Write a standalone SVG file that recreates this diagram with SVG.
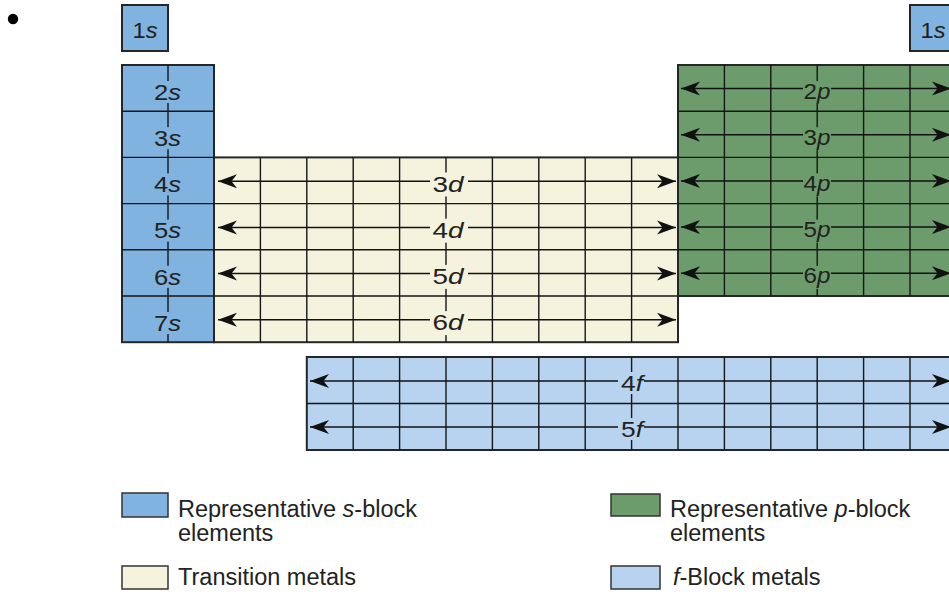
<svg xmlns="http://www.w3.org/2000/svg" width="949" height="592" viewBox="0 0 949 592">
<style>
.s{fill:#80b3df}.d{fill:#f5f2de}.p{fill:#6c9c6b}.f{fill:#b7d3ef}
.blk{stroke:#262626;stroke-width:2}
.grid{stroke:#161616;stroke-width:1.4;fill:none}
.arr{stroke:#111;stroke-width:1.5;fill:none;marker-start:url(#ah);marker-end:url(#ah)}
.lbl{font-family:"Liberation Sans",Arial,sans-serif;font-size:22px;fill:#222;text-anchor:middle}
.leg{font-family:"Liberation Sans",Arial,sans-serif;font-size:23.5px;fill:#222}
.it{font-style:italic}
</style>
<defs>
<marker id="ah" viewBox="-21 -8 23 16" refX="0" refY="0" markerWidth="23" markerHeight="16" markerUnits="userSpaceOnUse" orient="auto-start-reverse">
<path d="M0,0 L-19,-7 L-13.5,0 L-19,7 Z" fill="#111"/>
</marker>
</defs>
<rect width="949" height="592" fill="#fff"/>
<circle cx="13" cy="19" r="5.2" fill="#000"/>

<g id="node-1s-left">
<rect class="s blk" x="122" y="5" width="46" height="46"/>
</g>
<g id="node-1s-right">
<rect class="s blk" x="910" y="5" width="46" height="46"/>
</g>

<g id="node-d-block">
<rect class="d blk" x="214" y="157.4" width="464" height="184.8"/>
<path class="grid" d="M260.4 157.4V342.2M306.8 157.4V342.2M353.2 157.4V342.2M399.6 157.4V342.2M446 157.4V342.2M492.4 157.4V342.2M538.8 157.4V342.2M585.2 157.4V342.2M631.6 157.4V342.2M214 203.6H678M214 249.8H678M214 296H678"/>
</g>

<g id="node-s-block">
<rect class="s blk" x="122" y="65" width="92" height="277.2"/>
<path class="grid" d="M168 65V342.2M122 111.2H214M122 157.4H214M122 203.6H214M122 249.8H214M122 296H214"/>
</g>

<g id="node-p-block">
<rect class="p blk" x="678" y="65" width="278" height="231"/>
<path class="grid" d="M724.4 65V296M770.8 65V296M817.2 65V296M863.6 65V296M910 65V296M678 111.2H956M678 157.4H956M678 203.6H956M678 249.8H956"/>
</g>

<g id="node-f-block">
<rect class="f blk" x="306.8" y="357" width="650" height="93"/>
<path class="grid" d="M353.2 357V450M399.6 357V450M446 357V450M492.4 357V450M538.8 357V450M585.2 357V450M631.6 357V450M678 357V450M724.4 357V450M770.8 357V450M817.2 357V450M863.6 357V450M910 357V450M306.8 403.5H956"/>
</g>

<g id="connectors">
<path class="arr" d="M218 181.2H676"/>
<path class="arr" d="M218 227.4H676"/>
<path class="arr" d="M218 273.6H676"/>
<path class="arr" d="M218 319.8H676"/>
<path class="arr" d="M681 88.5H951"/>
<path class="arr" d="M681 134.7H951"/>
<path class="arr" d="M681 180.9H951"/>
<path class="arr" d="M681 227.1H951"/>
<path class="arr" d="M681 273.3H951"/>
<path class="arr" d="M310 381H951"/>
<path class="arr" d="M310 427H951"/>
</g>

<g id="labels">
<text class="lbl" x="145" y="37.5" font-size="20" textLength="25" lengthAdjust="spacingAndGlyphs">1<tspan class="it">s</tspan></text>
<text class="lbl" x="933" y="37.5" font-size="20" textLength="25" lengthAdjust="spacingAndGlyphs">1<tspan class="it">s</tspan></text>

<g class="s"><rect x="155" y="81" width="26" height="22"/><rect x="155" y="127.2" width="26" height="22"/><rect x="155" y="173.4" width="26" height="22"/><rect x="155" y="219.6" width="26" height="22"/><rect x="155" y="265.8" width="26" height="22"/><rect x="155" y="312" width="26" height="22"/></g>
<text class="lbl" x="167.5" y="99.8" textLength="27" lengthAdjust="spacingAndGlyphs">2<tspan class="it">s</tspan></text>
<text class="lbl" x="167.5" y="146" textLength="27" lengthAdjust="spacingAndGlyphs">3<tspan class="it">s</tspan></text>
<text class="lbl" x="167.5" y="192.2" textLength="27" lengthAdjust="spacingAndGlyphs">4<tspan class="it">s</tspan></text>
<text class="lbl" x="167.5" y="238.4" textLength="27" lengthAdjust="spacingAndGlyphs">5<tspan class="it">s</tspan></text>
<text class="lbl" x="167.5" y="284.6" textLength="27" lengthAdjust="spacingAndGlyphs">6<tspan class="it">s</tspan></text>
<text class="lbl" x="167.5" y="330.8" textLength="27" lengthAdjust="spacingAndGlyphs">7<tspan class="it">s</tspan></text>

<g class="d"><rect x="430" y="172.5" width="38" height="24"/><rect x="430" y="218.7" width="38" height="24"/><rect x="430" y="264.9" width="38" height="24"/><rect x="430" y="311.1" width="38" height="24"/></g>
<text class="lbl" x="448" y="191.5" textLength="31" lengthAdjust="spacingAndGlyphs">3<tspan class="it">d</tspan></text>
<text class="lbl" x="448" y="237.7" textLength="31" lengthAdjust="spacingAndGlyphs">4<tspan class="it">d</tspan></text>
<text class="lbl" x="448" y="283.9" textLength="31" lengthAdjust="spacingAndGlyphs">5<tspan class="it">d</tspan></text>
<text class="lbl" x="448" y="330.1" textLength="31" lengthAdjust="spacingAndGlyphs">6<tspan class="it">d</tspan></text>

<g class="p"><rect x="803" y="81" width="28" height="23"/><rect x="803" y="127.2" width="28" height="23"/><rect x="803" y="173.4" width="28" height="23"/><rect x="803" y="219.6" width="28" height="23"/><rect x="803" y="265.8" width="28" height="23"/></g>
<text class="lbl" x="817" y="98.6" textLength="27" lengthAdjust="spacingAndGlyphs">2<tspan class="it">p</tspan></text>
<text class="lbl" x="817" y="144.8" textLength="27" lengthAdjust="spacingAndGlyphs">3<tspan class="it">p</tspan></text>
<text class="lbl" x="817" y="191" textLength="27" lengthAdjust="spacingAndGlyphs">4<tspan class="it">p</tspan></text>
<text class="lbl" x="817" y="237.2" textLength="27" lengthAdjust="spacingAndGlyphs">5<tspan class="it">p</tspan></text>
<text class="lbl" x="817" y="283.4" textLength="27" lengthAdjust="spacingAndGlyphs">6<tspan class="it">p</tspan></text>

<g class="f"><rect x="618" y="372" width="26" height="22"/><rect x="618" y="418" width="26" height="22"/></g>
<text class="lbl" x="632" y="391" textLength="22" lengthAdjust="spacingAndGlyphs">4<tspan class="it">f</tspan></text>
<text class="lbl" x="632" y="437" textLength="22" lengthAdjust="spacingAndGlyphs">5<tspan class="it">f</tspan></text>
</g>

<g id="legend-s">
<rect class="s" x="122" y="493" width="46" height="24" stroke="#333" stroke-width="1.5"/>
<text class="leg" x="178" y="517">Representative <tspan class="it">s</tspan>-block</text>
<text class="leg" x="178" y="541">elements</text>
</g>
<g id="legend-d">
<rect class="d" x="122" y="566" width="46" height="23" stroke="#333" stroke-width="1.5"/>
<text class="leg" x="178" y="585">Transition metals</text>
</g>
<g id="legend-p">
<rect class="p" x="611" y="494" width="49" height="22" stroke="#333" stroke-width="1.5"/>
<text class="leg" x="670" y="517">Representative <tspan class="it">p</tspan>-block</text>
<text class="leg" x="670" y="541">elements</text>
</g>
<g id="legend-f">
<rect class="f" x="611" y="566" width="49" height="23" stroke="#333" stroke-width="1.5"/>
<text class="leg" x="673" y="585"><tspan class="it">f</tspan>-Block metals</text>
</g>
</svg>
